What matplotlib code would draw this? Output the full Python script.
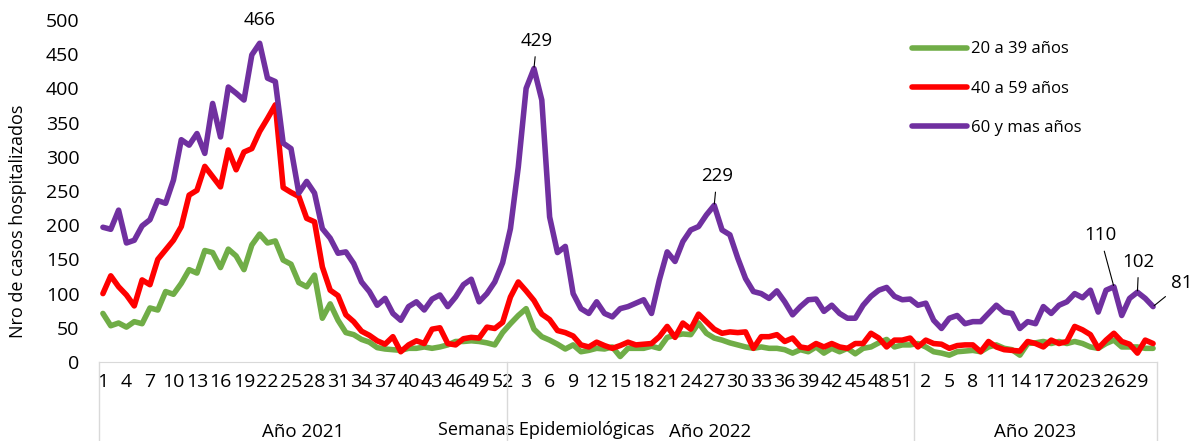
import numpy as np
import matplotlib.pyplot as plt

plt.rcParams['font.family'] = ['Open Sans', 'DejaVu Sans']

# categories
years = ["Año 2021", "Año 2022", "Año 2023"]
weeks_per_year = [52, 52, 31]
week_labels = [w for n in weeks_per_year for w in range(1, n + 1)]

# hospitalised cases per epidemiological week
g20_39 = [71, 53, 57, 51, 59, 56, 79, 76, 103, 99, 115, 135, 130, 163, 160, 138, 165, 155, 135, 171,
          187, 174, 177, 149, 143, 116, 110, 127, 64, 85, 61, 43, 40, 33, 29, 21, 19, 18, 17, 20,
          20, 22, 20, 22, 25, 30, 30, 31, 30, 28, 25, 43,
          56, 68, 78, 48, 37, 32, 26, 19, 25, 15, 17, 20, 19, 22, 8, 20, 20, 20, 23, 20,
          36, 39, 41, 40, 57, 42, 35, 32, 28, 25, 22, 20, 22, 20, 20, 18, 13, 18, 15, 22,
          13, 20, 15, 20, 12, 20, 22, 28, 33, 22, 25, 25,
          27, 22, 15, 13, 10, 15, 16, 17, 15, 22, 25, 20, 18, 10, 27, 28, 30, 27, 30, 27,
          30, 27, 22, 20, 27, 32, 22, 22, 22, 20, 20]
g40_59 = [100, 126, 110, 98, 82, 120, 113, 150, 164, 178, 198, 244, 251, 286, 271, 256, 310, 281, 307, 312,
          337, 356, 376, 255, 248, 242, 210, 205, 139, 105, 97, 69, 59, 45, 39, 31, 26, 37, 15, 25,
          31, 27, 48, 50, 27, 25, 34, 36, 35, 51, 49, 58,
          95, 117, 104, 90, 70, 62, 46, 43, 38, 25, 22, 29, 24, 20, 24, 29, 25, 26, 27, 37,
          52, 36, 57, 48, 70, 59, 48, 42, 44, 43, 44, 20, 37, 37, 40, 30, 35, 22, 20, 27,
          22, 27, 22, 20, 27, 27, 42, 35, 22, 32, 32, 35,
          22, 32, 27, 26, 20, 24, 25, 25, 15, 30, 22, 18, 17, 16, 30, 27, 22, 32, 27, 30,
          52, 47, 40, 20, 32, 42, 30, 26, 13, 32, 27]
g60 = [197, 194, 222, 174, 178, 199, 208, 236, 232, 266, 325, 317, 334, 305, 378, 329, 402, 393, 383, 449,
       466, 415, 410, 320, 312, 247, 264, 247, 195, 181, 159, 161, 144, 117, 103, 83, 93, 71, 61, 81,
       88, 76, 92, 98, 81, 95, 113, 121, 88, 100, 117, 145,
       195, 285, 400, 429, 383, 212, 160, 169, 100, 78, 71, 88, 71, 66, 78, 81, 86, 91, 71, 120,
       161, 147, 176, 193, 198, 215, 229, 193, 186, 152, 122, 103, 100, 93, 104, 88, 69, 81, 91, 92,
       74, 83, 71, 64, 64, 83, 96, 105, 109, 96, 91, 92,
       83, 86, 61, 49, 64, 68, 56, 59, 59, 71, 83, 73, 71, 49, 59, 56, 81, 71, 83, 88,
       100, 94, 105, 73, 105, 110, 68, 93, 102, 93, 81]

series = [g20_39, g40_59, g60]
series_names = ["20 a 39 años", "40 a 59 años", "60 y mas años"]
colors = ["#70AD47", "#FF0000", "#7030A0"]

# purple points carrying a value label, with text offset in points
labelled = {20: (0, 17), 55: (2, 20), 78: (2, 21), 129: (-10, 37), 132: (1, 22), 134: (21, 17)}

x = np.arange(len(g60))

fig = plt.figure(figsize=(11.95, 4.41), dpi=100)
ax = fig.add_axes([99 / 1195, 1 - 362 / 441, 1058 / 1195, 342 / 441])

for vals, name, col in zip(series, series_names, colors):
    ax.plot(x, vals, color=col, lw=4, label=name,
            solid_joinstyle='round', solid_capstyle='round')

for i, (dx, dy) in labelled.items():
    arrow = None if i == 20 else dict(arrowstyle='-', color='black', lw=0.8, shrinkA=3, shrinkB=1)
    ax.annotate(str(g60[i]), (x[i], g60[i]), xytext=(dx, dy), textcoords='offset points',
                ha='center', va='center', fontsize=13.5, arrowprops=arrow)

ax.set_xlim(-0.5, len(x) - 0.5)
ax.set_ylim(0, 500)
ax.set_yticks(range(0, 501, 50))
ax.set_xticks(x[::3])
ax.set_xticklabels([week_labels[i] for i in x[::3]])
ax.tick_params(axis='x', length=0, pad=8, labelsize=14)
ax.tick_params(axis='y', length=0, pad=14, labelsize=14)

for s in ['top', 'right', 'left']:
    ax.spines[s].set_visible(False)
ax.spines['bottom'].set_color('#D9D9D9')

# year groups under the week labels
bounds = np.concatenate([[0], np.cumsum(weeks_per_year)]) - 0.5
for b in bounds:
    ax.plot([b, b], [0, -0.235], color='#D9D9D9', lw=1, clip_on=False,
            transform=ax.get_xaxis_transform())
for yr, a, b in zip(years, bounds[:-1], bounds[1:]):
    ax.text((a + b) / 2, -0.205, yr, ha='center', va='center', fontsize=13.5,
            transform=ax.get_xaxis_transform())

ax.set_xlabel("Semanas Epidemiológicas", fontsize=13)
ax.xaxis.set_label_coords(0.423, -0.2)
ax.xaxis.label.set_va('center')
ax.set_ylabel("Nro de casos hospitalizados", fontsize=13)
ax.yaxis.set_label_coords(-0.077, 0.412)
ax.yaxis.label.set_va('center')

ax.legend(loc='upper left', bbox_to_anchor=(904 / 1195, 1 - 33 / 441), bbox_transform=fig.transFigure,
          frameon=False, handlelength=3.3, handletextpad=0.2, labelspacing=1.4, borderpad=0,
          fontsize=12)

fig.savefig('out.png', dpi=100)
